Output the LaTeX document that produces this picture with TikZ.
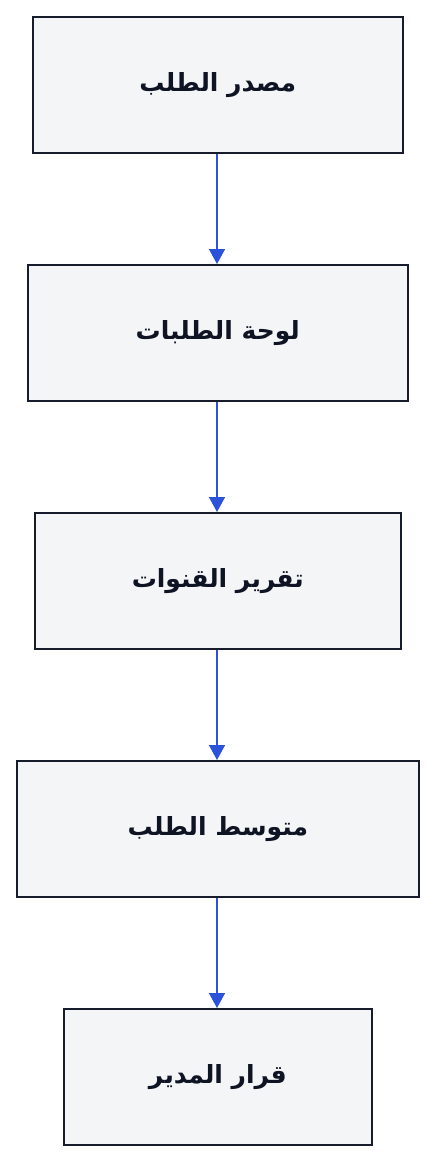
\documentclass[tikz,border=0pt]{standalone}
\usepackage{fontspec}
\newfontfamily\arabicfont[Script=Arabic]{DejaVu Sans}
\TeXXeTstate=1
\usetikzlibrary{arrows.meta}
\definecolor{boxfill}{HTML}{F4F5F7}
\definecolor{boxline}{HTML}{161C2C}
\definecolor{arrowblue}{HTML}{2B52DB}
\definecolor{txt}{HTML}{0F1424}
\tikzset{
  stepbox/.style={draw=boxline, line width=1.6pt, fill=boxfill, anchor=north west, inner sep=0pt, font=\arabicfont\bfseries\fontsize{25}{30}\selectfont, text=txt},
  flow/.style={draw=arrowblue, line width=1.6pt, -{Triangle[length=15pt,width=16pt]}}
}
\begin{document}
\begin{tikzpicture}[x=1pt,y=-1pt]
\useasboundingbox (0,0) rectangle (434,1160);
\node[stepbox, minimum width=370pt, minimum height=136pt] (a) at (32,16) {\beginR مصدر الطلب\endR};
\node[stepbox, minimum width=380pt, minimum height=136pt] (b) at (27,264) {\beginR لوحة الطلبات\endR};
\node[stepbox, minimum width=366pt, minimum height=136pt] (c) at (34,512) {\beginR تقرير القنوات\endR};
\node[stepbox, minimum width=402pt, minimum height=136pt] (d) at (16,760) {\beginR متوسط الطلب\endR};
\node[stepbox, minimum width=308pt, minimum height=136pt] (e) at (63,1008) {\beginR قرار المدير\endR};
\draw[flow] (a.south -| 217,0) -- (b.north -| 217,0);
\draw[flow] (b.south -| 217,0) -- (c.north -| 217,0);
\draw[flow] (c.south -| 217,0) -- (d.north -| 217,0);
\draw[flow] (d.south -| 217,0) -- (e.north -| 217,0);
\end{tikzpicture}
\end{document}
